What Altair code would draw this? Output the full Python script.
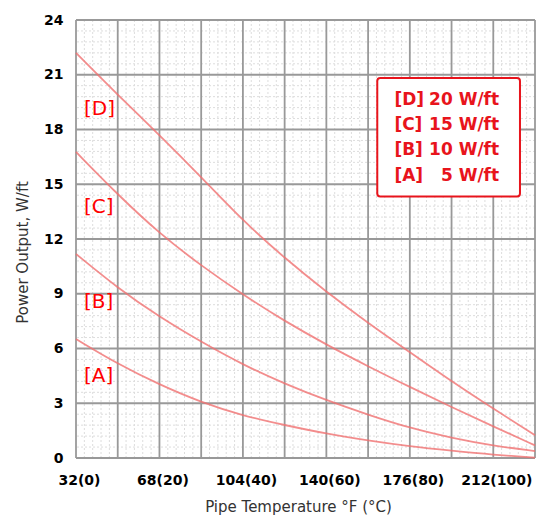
import altair as alt
import pandas as pd

# ---- data ----
temp_c = [0, 10, 20, 30, 40, 50, 60, 70, 80, 90, 100, 110]
power_d = [22.2, 19.9, 17.7, 15.4, 13.0, 10.95, 9.1, 7.4, 5.8, 4.2, 2.7, 1.25]
power_c = [16.77, 14.43, 12.3, 10.54, 8.95, 7.5, 6.21, 5.02, 3.89, 2.79, 1.73, 0.69]
power_b = [11.18, 9.31, 7.73, 6.36, 5.11, 4.07, 3.16, 2.37, 1.64, 1.1, 0.67, 0.38]
power_a = [6.52, 5.15, 4.02, 3.05, 2.32, 1.8, 1.33, 0.96, 0.64, 0.40, 0.18, 0.02]

series_names = ["[D]", "[C]", "[B]", "[A]"]
series_values = [power_d, power_c, power_b, power_a]
legend_left = ["[D]", "[C]", "[B]", "[A]"]
legend_right = ["20 W/ft", "15 W/ft", "10 W/ft", "5 W/ft"]

x_tick_values = [0, 20, 40, 60, 80, 100]
x_tick_labels = ["32(0)", "68(20)", "104(40)", "140(60)", "176(80)", "212(100)"]
y_tick_values = [0, 3, 6, 9, 12, 15, 18, 21, 24]

x_major = list(range(0, 111, 10))
x_minor = [v for v in range(0, 111, 2) if v % 10 != 0]
y_major = y_tick_values
y_minor = [round(i * 0.6, 2) for i in range(0, 41) if i % 5 != 0]

# annotation placement (data units)
curve_label_x = 1.9
curve_label_y = [19.1, 13.77, 8.53, 4.47]
legend_box = dict(x=72.2, x2=106.4, y=20.82, y2=14.33)
legend_left_x = 76.3
legend_right_x = 101.4
legend_rows_y = [19.6, 18.23, 16.86, 15.47]

# ---- tables ----
rows = []
for name, vals in zip(series_names, series_values):
    for t, p in zip(temp_c, vals):
        rows.append({"t": t, "p": p, "s": name})
df = pd.DataFrame(rows)

lab_df = pd.DataFrame({"t": [curve_label_x] * 4, "p": curve_label_y, "s": series_names})
leg_df = pd.DataFrame({"l": legend_left, "r": legend_right, "p": legend_rows_y,
                       "tl": [legend_left_x] * 4, "tr": [legend_right_x] * 4})
box_df = pd.DataFrame([legend_box])

xs = alt.Scale(domain=[0, 110], nice=False, zero=False)
ys = alt.Scale(domain=[0, 24], nice=False, zero=False)

label_expr = ""
for v, l in zip(x_tick_values, x_tick_labels):
    label_expr += f"datum.value == {v} ? '{l}' : "
label_expr += "''"

FONT = "DejaVu Sans"

x_axis = alt.Axis(
    values=x_tick_values, labelExpr=label_expr, grid=False, domain=False,
    ticks=False, tickSize=0, labelPadding=15, labelFont=FONT, labelFontSize=14,
    labelFontWeight="bold", labelColor="#000000", labelFlush=False, labelOffset=3,
    title="Pipe Temperature °F (°C)", titleFont=FONT, titleFontSize=15,
    titleFontWeight="normal", titleColor="#333333", titleX=222, titleY=53,
    titleAlign="center", titleBaseline="alphabetic")
y_axis = alt.Axis(
    values=y_tick_values, format="d", grid=False, domain=False, ticks=False,
    tickSize=0, labelPadding=13, labelFont=FONT, labelFontSize=14,
    labelFontWeight="bold", labelColor="#000000", labelFlush=False,
    title="Power Output, W/ft", titleFont=FONT, titleFontSize=15,
    titleFontWeight="normal", titleColor="#333333", titleX=-54, titleY=232,
    titleAngle=270, titleAlign="center", titleBaseline="middle")


def X(f):
    return alt.X(f, type="quantitative", scale=xs, axis=x_axis)


def Y(f):
    return alt.Y(f, type="quantitative", scale=ys, axis=y_axis)


minor_x = alt.Chart(pd.DataFrame({"t": x_minor})).mark_rule(
    color="#dddddd", strokeWidth=1, strokeDash=[2, 2]
).encode(x=X("t"))
minor_y = alt.Chart(pd.DataFrame({"p": y_minor})).mark_rule(
    color="#dddddd", strokeWidth=1, strokeDash=[2, 2]
).encode(y=Y("p"))
major_x = alt.Chart(pd.DataFrame({"t": x_major})).mark_rule(
    color="#999999", strokeWidth=1.8
).encode(x=X("t"))
major_y = alt.Chart(pd.DataFrame({"p": y_major})).mark_rule(
    color="#999999", strokeWidth=1.8
).encode(y=Y("p"))

lines = alt.Chart(df).mark_line(
    color="#f07070", strokeWidth=1.8, opacity=0.8, interpolate="basis"
).encode(x=X("t"), y=Y("p"), detail="s:N")

curve_labels = alt.Chart(lab_df).mark_text(
    align="left", baseline="middle", font=FONT, fontSize=20, color="#ff0000"
).encode(x=X("t"), y=Y("p"), text="s:N")

box = alt.Chart(box_df).mark_rect(
    fill="#ffffff", stroke="#e8141c", strokeWidth=2, cornerRadius=3
).encode(x=X("x"), x2="x2:Q", y=Y("y"), y2="y2:Q")

leg_l = alt.Chart(leg_df).mark_text(
    align="left", baseline="middle", font=FONT, fontSize=17, fontWeight="bold", color="#e8141c"
).encode(x=X("tl"), y=Y("p"), text="l:N")
leg_r = alt.Chart(leg_df).mark_text(
    align="right", baseline="middle", font=FONT, fontSize=17, fontWeight="bold", color="#e8141c"
).encode(x=X("tr"), y=Y("p"), text="r:N")

chart = alt.layer(
    minor_x, minor_y, major_x, major_y, lines, curve_labels, box, leg_l, leg_r
).properties(
    width=459, height=438,
    autosize=alt.AutoSizeParams(type="none"),
    padding={"left": 68, "top": 12, "right": 1, "bottom": 58},
    background="#ffffff",
).configure_view(stroke=None)

chart.save("out.html", embed_options={"renderer": "svg", "actions": False})
